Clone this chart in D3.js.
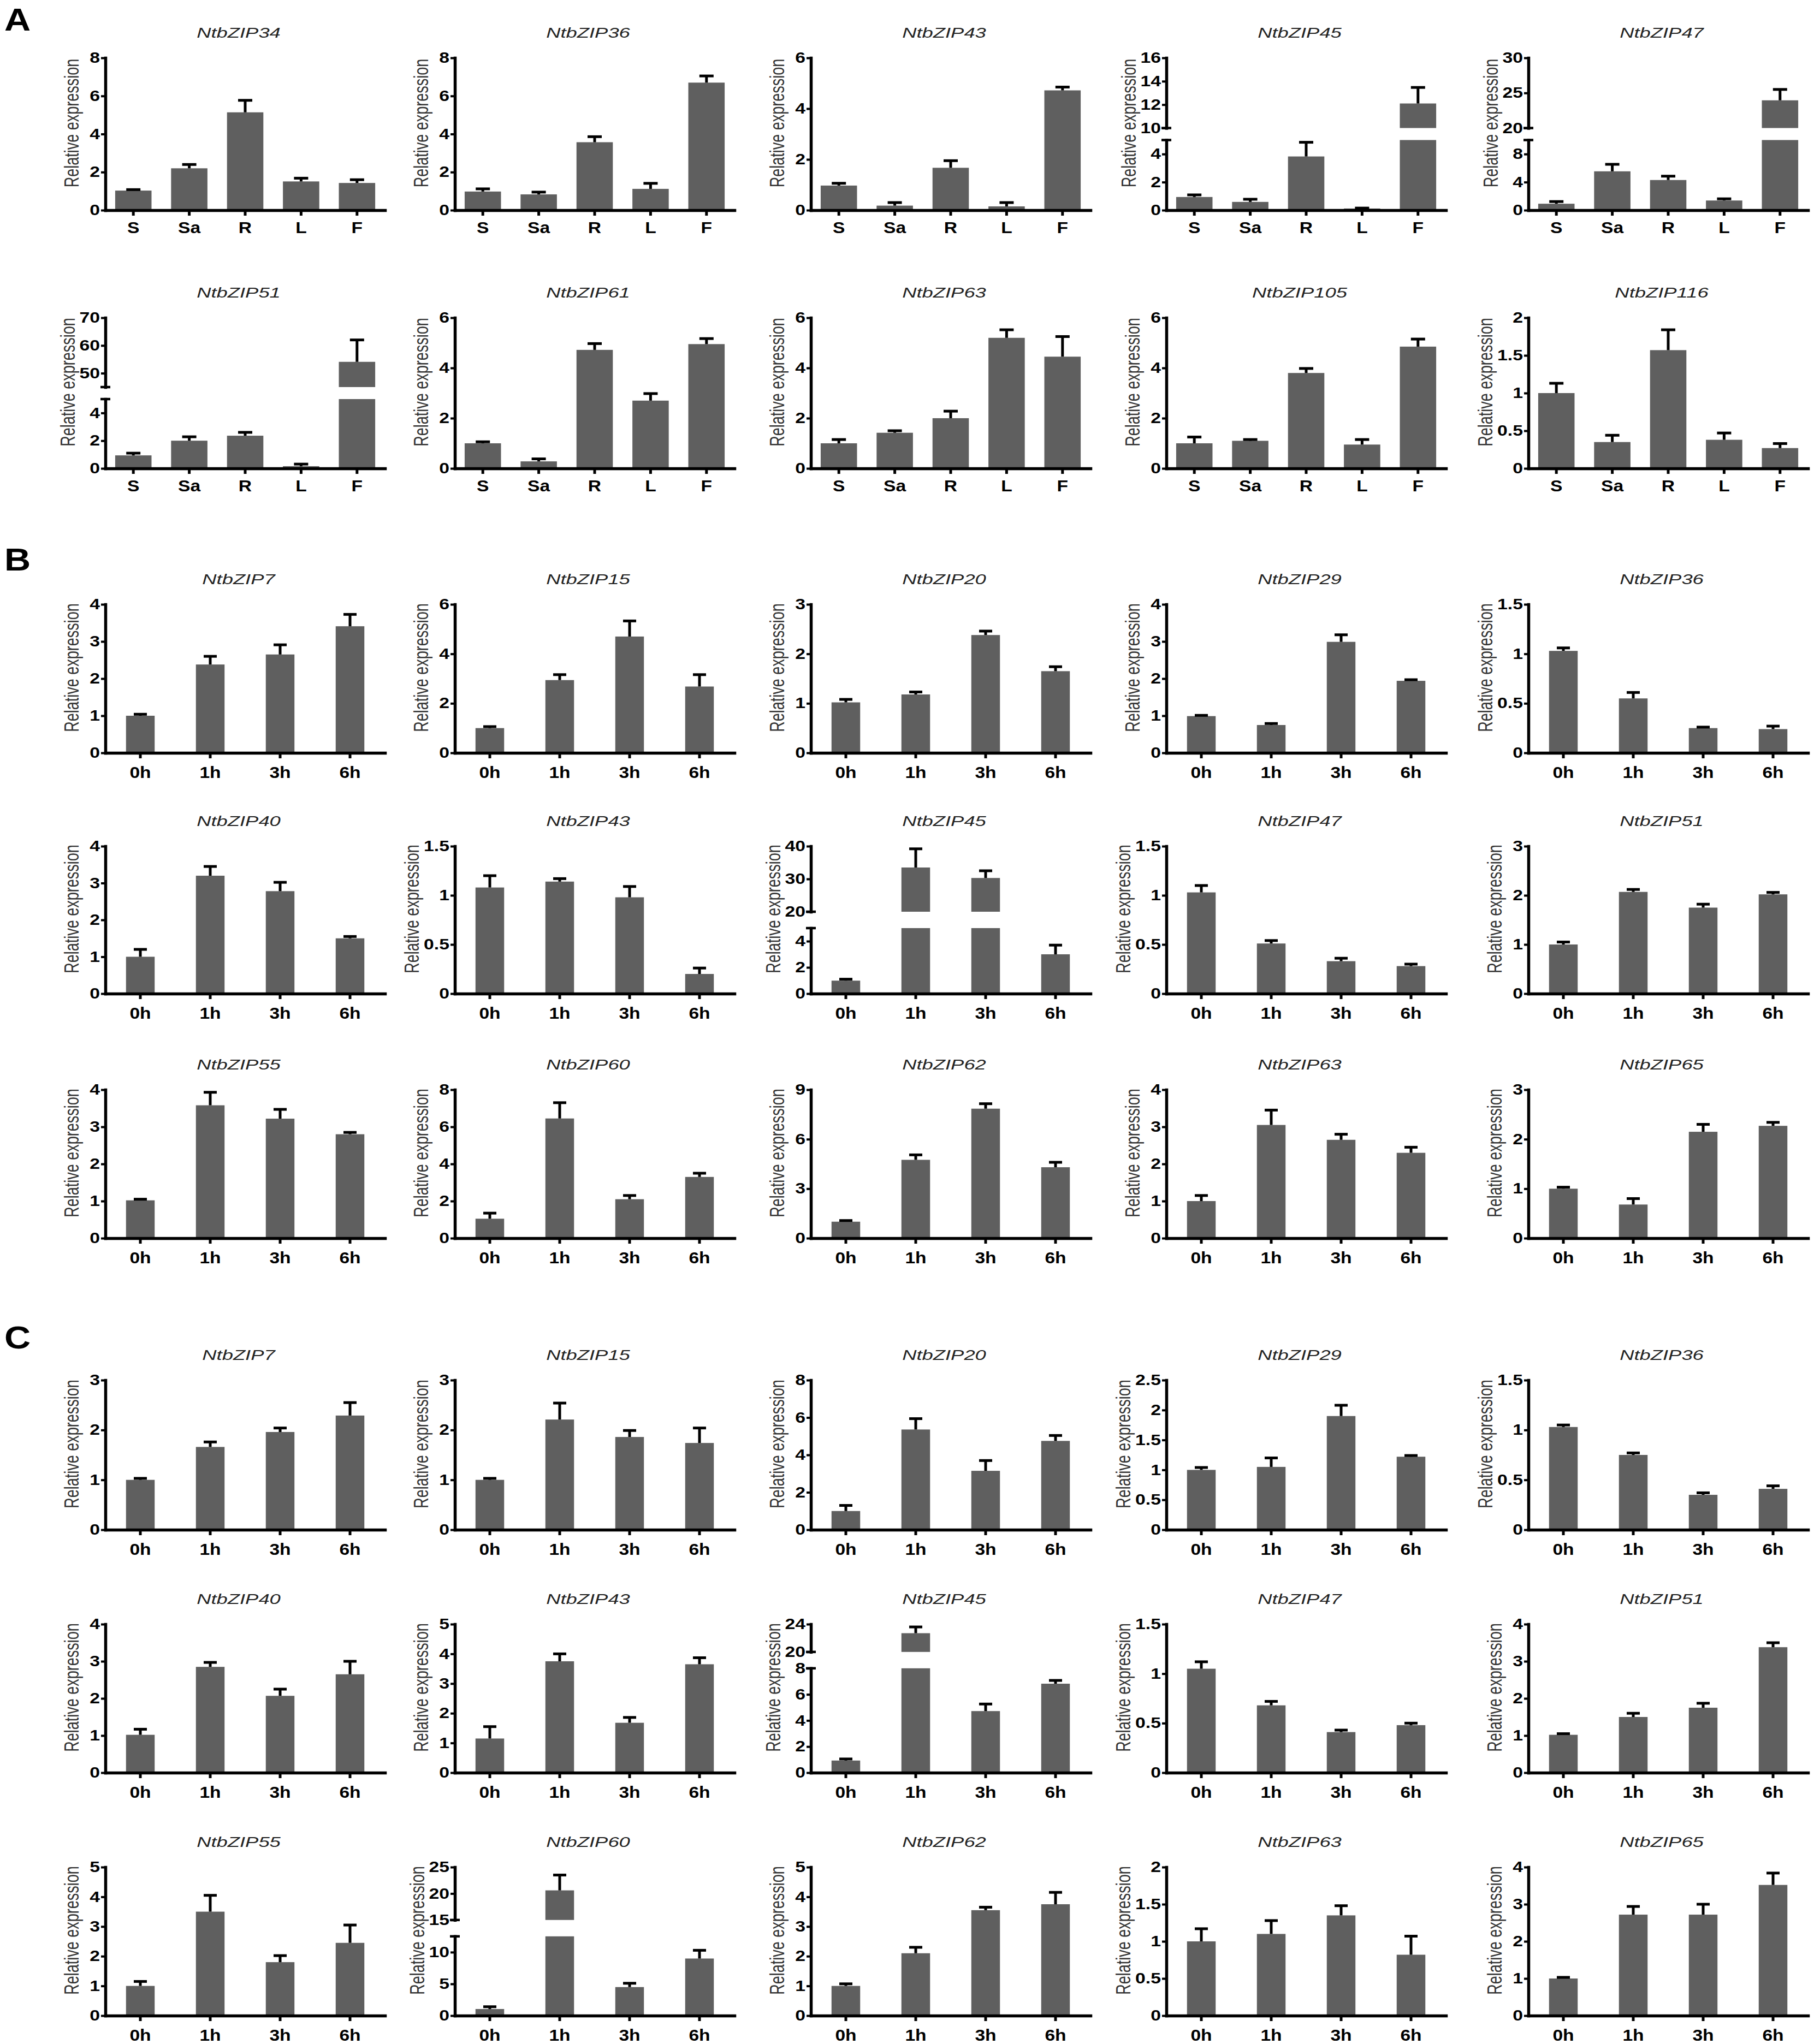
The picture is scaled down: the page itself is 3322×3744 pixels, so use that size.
<!DOCTYPE html>
<html><head><meta charset="utf-8">
<script src="https://cdn.jsdelivr.net/npm/d3@7"></script>
<style>body{margin:0;background:#fff}</style>
</head><body>
<svg id="chart" width="3322" height="3744" xmlns="http://www.w3.org/2000/svg"></svg>
<script>
// ---------------- DATA ----------------
const tissues = ["S", "Sa", "R", "L", "F"];
const times = ["0h", "1h", "3h", "6h"];

// Section A: tissue expression
const genesA = ["NtbZIP34","NtbZIP36","NtbZIP43","NtbZIP45","NtbZIP47","NtbZIP51","NtbZIP61","NtbZIP63","NtbZIP105","NtbZIP116"];
const meanA = [
  [1.03, 2.2, 5.14, 1.51, 1.43],
  [0.98, 0.83, 3.57, 1.12, 6.7],
  [0.97, 0.18, 1.67, 0.15, 4.72],
  [0.94, 0.59, 3.83, 0.12, 12.1],
  [0.92, 5.54, 4.3, 1.38, 23.95],
  [0.94, 2.0, 2.36, 0.16, 54.1],
  [1.0, 0.28, 4.72, 2.7, 4.95],
  [1.0, 1.42, 2.0, 5.2, 4.45],
  [1.0, 1.1, 3.8, 0.95, 4.85],
  [1.0, 0.35, 1.57, 0.38, 0.27]
];
const errA = [
  [0.05, 0.2, 0.63, 0.17, 0.17],
  [0.14, 0.12, 0.29, 0.29, 0.35],
  [0.09, 0.12, 0.28, 0.15, 0.13],
  [0.15, 0.19, 1.01, 0.03, 1.37],
  [0.31, 1.0, 0.55, 0.24, 1.55],
  [0.16, 0.28, 0.24, 0.15, 7.9],
  [0.06, 0.1, 0.25, 0.28, 0.22],
  [0.15, 0.08, 0.28, 0.32, 0.8],
  [0.25, 0.05, 0.18, 0.2, 0.3],
  [0.13, 0.09, 0.27, 0.09, 0.06]
];
const yMaxA  = [8, 8, 6, null, null, null, 6, 6, 6, 2];
const yStepA = [2, 2, 2, null, null, null, 2, 2, 2, 0.5];
const breaksA = [null, null, null,
  {lo: [0, 5],  loTicks: [0, 2, 4],    hi: [10, 16], hiTicks: [10, 12, 14, 16]},
  {lo: [0, 10], loTicks: [0, 4, 8],    hi: [20, 30], hiTicks: [20, 25, 30]},
  {lo: [0, 5],  loTicks: [0, 2, 4],    hi: [45, 70], hiTicks: [50, 60, 70]},
  null, null, null, null];

// Section B: time course 1
const genesB = ["NtbZIP7","NtbZIP15","NtbZIP20","NtbZIP29","NtbZIP36","NtbZIP40","NtbZIP43","NtbZIP45","NtbZIP47","NtbZIP51","NtbZIP55","NtbZIP60","NtbZIP62","NtbZIP63","NtbZIP65"];
const meanB = [
  [1.0, 2.38, 2.65, 3.41],
  [1.0, 2.94, 4.7, 2.68],
  [1.02, 1.18, 2.38, 1.65],
  [0.99, 0.75, 2.99, 1.94],
  [1.03, 0.55, 0.25, 0.24],
  [1.0, 3.2, 2.78, 1.5],
  [1.08, 1.14, 0.98, 0.2],
  [0.99, 33.5, 30.3, 3.0],
  [1.03, 0.51, 0.33, 0.28],
  [1.0, 2.07, 1.75, 2.02],
  [1.02, 3.58, 3.22, 2.8],
  [1.05, 6.45, 2.1, 3.3],
  [1.0, 4.75, 7.85, 4.3],
  [1.0, 3.05, 2.65, 2.3],
  [1.0, 0.68, 2.15, 2.27]
];
const errB = [
  [0.04, 0.22, 0.26, 0.32],
  [0.06, 0.22, 0.63, 0.48],
  [0.06, 0.05, 0.08, 0.09],
  [0.02, 0.04, 0.19, 0.03],
  [0.03, 0.06, 0.01, 0.03],
  [0.2, 0.25, 0.24, 0.05],
  [0.12, 0.03, 0.11, 0.06],
  [0.11, 5.7, 2.2, 0.7],
  [0.07, 0.03, 0.03, 0.02],
  [0.05, 0.05, 0.07, 0.04],
  [0.03, 0.35, 0.25, 0.05],
  [0.3, 0.85, 0.2, 0.2],
  [0.07, 0.3, 0.3, 0.3],
  [0.15, 0.4, 0.15, 0.15],
  [0.03, 0.12, 0.15, 0.07]
];
const yMaxB  = [4, 6, 3, 4, 1.5, 4, 1.5, null, 1.5, 3, 4, 8, 9, 4, 3];
const yStepB = [1, 2, 1, 1, 0.5, 1, 0.5, null, 0.5, 1, 1, 2, 3, 1, 1];
const breaksB = [null, null, null, null, null, null, null,
  {lo: [0, 5], loTicks: [0, 2, 4], hi: [20, 40], hiTicks: [20, 30, 40]},
  null, null, null, null, null, null, null];

// Section C: time course 2
const genesC = ["NtbZIP7","NtbZIP15","NtbZIP20","NtbZIP29","NtbZIP36","NtbZIP40","NtbZIP43","NtbZIP45","NtbZIP47","NtbZIP51","NtbZIP55","NtbZIP60","NtbZIP62","NtbZIP63","NtbZIP65"];
const meanC = [
  [1.0, 1.66, 1.96, 2.29],
  [1.0, 2.21, 1.86, 1.74],
  [1.0, 5.36, 3.15, 4.75],
  [1.0, 1.05, 1.9, 1.22],
  [1.03, 0.75, 0.35, 0.41],
  [1.02, 2.85, 2.07, 2.65],
  [1.15, 3.75, 1.68, 3.65],
  [0.93, 22.7, 4.72, 6.82],
  [1.05, 0.68, 0.41, 0.48],
  [1.02, 1.5, 1.75, 3.38],
  [1.0, 3.5, 1.8, 2.45],
  [1.04, 20.6, 4.5, 9.0],
  [1.0, 2.1, 3.55, 3.75],
  [1.0, 1.1, 1.35, 0.82],
  [1.0, 2.72, 2.72, 3.52]
];
const errC = [
  [0.03, 0.1, 0.08, 0.26],
  [0.03, 0.33, 0.13, 0.3],
  [0.3, 0.58, 0.55, 0.29],
  [0.04, 0.15, 0.18, 0.02],
  [0.02, 0.02, 0.02, 0.03],
  [0.15, 0.12, 0.18, 0.35],
  [0.4, 0.25, 0.18, 0.22],
  [0.12, 0.9, 0.54, 0.25],
  [0.07, 0.04, 0.02, 0.02],
  [0.03, 0.1, 0.12, 0.12],
  [0.15, 0.55, 0.22, 0.6],
  [0.36, 2.9, 0.6, 1.3],
  [0.07, 0.2, 0.1, 0.4],
  [0.17, 0.18, 0.13, 0.25],
  [0.03, 0.22, 0.28, 0.32]
];
const yMaxC  = [3, 3, 8, 2.5, 1.5, 4, 5, null, 1.5, 4, 5, null, 5, 2, 4];
const yStepC = [1, 1, 2, 0.5, 0.5, 1, 1, null, 0.5, 1, 1, null, 1, 0.5, 1];
const breaksC = [null, null, null, null, null, null, null,
  {lo: [0, 8], loTicks: [0, 2, 4, 6, 8], hi: [20, 24], hiTicks: [20, 24]},
  null, null, null,
  {lo: [0, 12.5], loTicks: [0, 5, 10], hi: [15, 25], hiTicks: [15, 20, 25]},
  null, null, null];

// ---------------- LAYOUT ----------------
const colX = [193, 833, 1485, 2136, 2799];
const plotW = 512;
const rowTop  = [106, 582, 1107, 1550, 1996, 2528, 2975, 3420];
const rowZero = [385, 858, 1379, 1820, 2268, 2802, 3247, 3692];
const breakFrac = {A3: 0.5, A4: 0.5, A5: 0.5, B7: 0.5, C7: 0.79, C11: 0.6};
const breakGap = {A: 22, B: 30, C: 30};
const FONT = "'Liberation Sans', Arial, Helvetica, sans-serif";
const BAR = "#5f5f5f";

const svg = d3.select("#chart");
svg.append("rect").attr("width", 3322).attr("height", 3744).attr("fill", "#fff");

function fmt(d) { return String(d); }

function drawPanel(sec, idx, row, col, gene, cats, mean, err, yMax, yStep, brk) {
  const x0 = colX[col], top = rowTop[row], zero = rowZero[row];
  const g = svg.append("g").attr("class", "panel");
  const pin = cats.length === 5 ? 0.35 : 0.59;
  const x = d3.scaleBand().domain(cats).range([x0, x0 + plotW]).paddingInner(pin).paddingOuter(pin / 2);

  let yLo, yHi = null;
  if (!brk) {
    yLo = d3.scaleLinear().domain([0, yMax]).range([zero, top]);
  } else {
    const gap = breakGap[sec];
    const H = zero - top - gap;
    const hLo = H * breakFrac[sec + idx];
    yLo = d3.scaleLinear().domain(brk.lo).range([zero, zero - hLo]);
    yHi = d3.scaleLinear().domain(brk.hi).range([zero - hLo - gap, top]);
  }

  const inHi = v => brk && v > brk.hi[0];
  const yPos = (m, v) => inHi(m) ? yHi(v) : yLo(v);

  // bars
  cats.forEach((c, i) => {
    const v = mean[i];
    const lv = brk ? Math.min(v, brk.lo[1]) : v;
    g.append("rect").attr("x", x(c)).attr("width", x.bandwidth())
      .attr("y", yLo(lv)).attr("height", zero - yLo(lv)).attr("fill", BAR);
    if (inHi(v)) {
      g.append("rect").attr("x", x(c)).attr("width", x.bandwidth())
        .attr("y", yHi(v)).attr("height", yHi(brk.hi[0]) - yHi(v)).attr("fill", BAR);
    }
    // error bar (upper only)
    const cx = x(c) + x.bandwidth() / 2;
    const yt = yPos(v, v + err[i]);
    const ym = yPos(v, v);
    g.append("line").attr("x1", cx).attr("x2", cx).attr("y1", ym).attr("y2", yt)
      .attr("stroke", "#000").attr("stroke-width", 5);
    const cw = cats.length === 5 ? 13 : 12;
    g.append("line").attr("x1", cx - cw).attr("x2", cx + cw).attr("y1", yt).attr("y2", yt)
      .attr("stroke", "#000").attr("stroke-width", 5);
  });

  // y axis
  const axes = [];
  if (!brk) {
    axes.push([yLo, d3.range(0, yMax + yStep / 2, yStep)]);
  } else {
    axes.push([yLo, brk.loTicks]);
    axes.push([yHi, brk.hiTicks]);
  }
  let maxW = 0;
  axes.forEach(([sc, ticks]) => {
    const ag = g.append("g").attr("transform", `translate(${x0},0)`)
      .call(d3.axisLeft(sc).tickValues(ticks).tickSize(8).tickSizeOuter(0).tickPadding(0).tickFormat(fmt));
    ag.select(".domain").attr("stroke", "#000").attr("stroke-width", 5.5).attr("stroke-linecap", "square");
    ag.selectAll(".tick line").attr("stroke", "#000").attr("stroke-width", 4);
    ag.selectAll(".tick text").attr("fill", "#000").attr("font-family", FONT)
      .attr("font-weight", "bold").attr("font-size", 27).attr("transform", "scale(1.25,1)")
      .each(function () { maxW = Math.max(maxW, this.getComputedTextLength() * 1.25); });
    ag.attr("font-size", null).attr("font-family", null);
  });
  if (brk) {
    [yLo(brk.lo[1]), yHi(brk.hi[0])].forEach(yy => {
      g.append("line").attr("x1", x0 - 9).attr("x2", x0 + 9).attr("y1", yy).attr("y2", yy)
        .attr("stroke", "#000").attr("stroke-width", 4.5);
    });
  }

  // x axis
  const xg = g.append("g").attr("transform", `translate(0,${zero})`)
    .call(d3.axisBottom(x).tickSize(10).tickSizeOuter(0).tickPadding(sec === "A" ? 11 : 15));
  xg.select(".domain").attr("stroke", "#000").attr("stroke-width", 5.5).attr("stroke-linecap", "square");
  xg.selectAll(".tick line").attr("stroke", "#000").attr("stroke-width", 5);
  xg.selectAll(".tick text").attr("fill", "#000").attr("font-family", FONT)
    .attr("font-weight", "bold").attr("font-size", 30).attr("transform", "scale(1.12,1)");
  xg.attr("font-size", null).attr("font-family", null);

  // axis title
  const off = Math.max(62, maxW + 32);
  g.append("text")
    .attr("transform", `translate(${x0 - off},${(top + zero) / 2 - 20}) scale(1.35,1) rotate(-90)`)
    .attr("text-anchor", "middle").attr("dy", "0.36em")
    .attr("font-family", FONT).attr("font-size", 27).attr("fill", "#333")
    .text("Relative expression");

  // panel title
  g.append("text")
    .attr("transform", `translate(${x0 + plotW / 2 - 12},${top - 37}) scale(1.4,1)`)
    .attr("text-anchor", "middle").attr("font-family", FONT).attr("font-style", "italic")
    .attr("font-size", 26).attr("fill", "#222").text(gene);
}

const sections = [
  {sec: "A", genes: genesA, cats: tissues, mean: meanA, err: errA, yMax: yMaxA, yStep: yStepA, brk: breaksA, row0: 0, letterY: 56},
  {sec: "B", genes: genesB, cats: times, mean: meanB, err: errB, yMax: yMaxB, yStep: yStepB, brk: breaksB, row0: 2, letterY: 1045},
  {sec: "C", genes: genesC, cats: times, mean: meanC, err: errC, yMax: yMaxC, yStep: yStepC, brk: breaksC, row0: 5, letterY: 2470}
];

sections.forEach(s => {
  svg.append("text").attr("transform", `translate(8,${s.letterY}) scale(1.15,1)`)
    .attr("font-family", FONT).attr("font-weight", "bold").attr("font-size", 58)
    .attr("fill", "#000").text(s.sec);
  s.genes.forEach((gname, i) => {
    const row = s.row0 + Math.floor(i / 5), col = i % 5;
    drawPanel(s.sec, i, row, col, gname, s.cats, s.mean[i], s.err[i], s.yMax[i], s.yStep[i], s.brk[i]);
  });
});
</script>
</body></html>
